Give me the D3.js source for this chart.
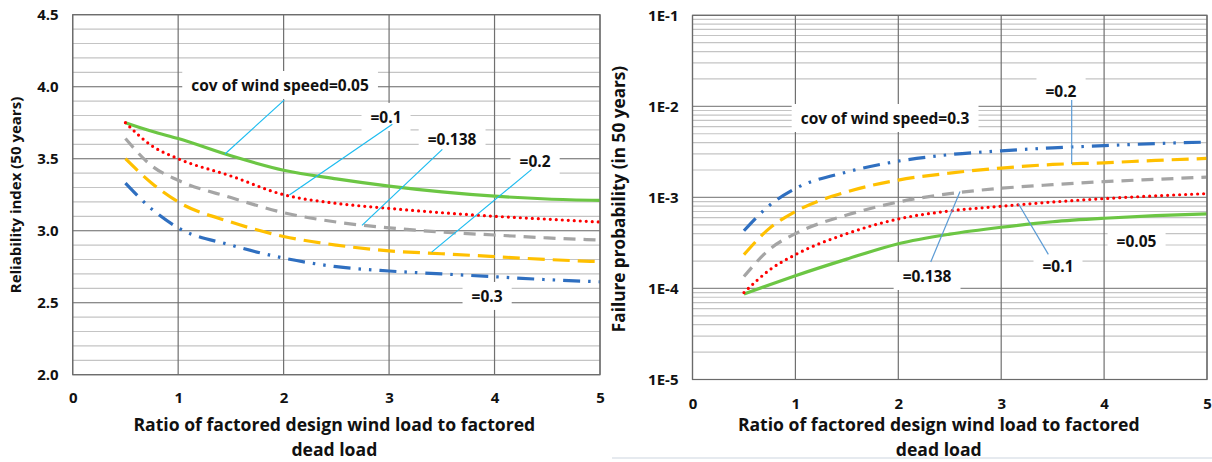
<!DOCTYPE html>
<html>
<head>
<meta charset="utf-8">
<script src="https://cdn.jsdelivr.net/npm/d3@7"></script>
<style>
body { margin: 0; background: #fff; }
svg text { font-family: "Open Sans", Lato, sans-serif; font-weight: bold; fill: #111; }
</style>
</head>
<body>
<svg id="chart" width="1212" height="462"></svg>
<script>
// ---- data ----
const ratios = [0.5, 0.75, 1, 1.5, 2, 2.5, 3, 3.5, 4, 4.5, 5];
const covs = ["0.05", "0.1", "0.138", "0.2", "0.3"];

// reliability index (left panel)
const beta005  = [3.75, 3.69, 3.64, 3.52, 3.42, 3.36, 3.31, 3.27, 3.24, 3.22, 3.21];
const beta01   = [3.75, 3.59, 3.50, 3.38, 3.25, 3.19, 3.155, 3.125, 3.10, 3.08, 3.06];
const beta0138 = [3.64, 3.45, 3.35, 3.23, 3.125, 3.06, 3.02, 2.99, 2.97, 2.95, 2.935];
const beta02   = [3.50, 3.33, 3.20, 3.06, 2.96, 2.90, 2.86, 2.84, 2.82, 2.80, 2.785];
const beta03   = [3.33, 3.15, 3.02, 2.90, 2.81, 2.75, 2.72, 2.70, 2.68, 2.66, 2.645];

// failure probability (right panel)
const pf005  = [8.7e-5, 1.1e-4, 1.38e-4, 2.1e-4, 3.1e-4, 3.95e-4, 4.7e-4, 5.4e-4, 5.9e-4, 6.3e-4, 6.6e-4];
const pf01   = [9.0e-5, 1.6e-4, 2.35e-4, 4.0e-4, 5.8e-4, 7.1e-4, 8.0e-4, 8.9e-4, 9.7e-4, 1.04e-3, 1.1e-3];
const pf0138 = [1.35e-4, 2.7e-4, 4.0e-4, 6.4e-4, 8.9e-4, 1.1e-3, 1.26e-3, 1.38e-3, 1.49e-3, 1.58e-3, 1.67e-3];
const pf02   = [2.35e-4, 4.6e-4, 7.0e-4, 1.15e-3, 1.55e-3, 1.85e-3, 2.1e-3, 2.3e-3, 2.4e-3, 2.55e-3, 2.68e-3];
const pf03   = [4.3e-4, 8.2e-4, 1.25e-3, 1.9e-3, 2.5e-3, 2.95e-3, 3.25e-3, 3.5e-3, 3.7e-3, 3.9e-3, 4.05e-3];

const xTicks = [0, 1, 2, 3, 4, 5];
const betaTicks = [2.0, 2.5, 3.0, 3.5, 4.0, 4.5];
const pfTicks = [1e-5, 1e-4, 1e-3, 1e-2, 1e-1];
const pfTickLabels = ["1E-5", "1E-4", "1E-3", "1E-2", "1E-1"];

const xTitle = ["Ratio of factored design wind load to factored", "dead load"];

// series look
const seriesStyle = {
  "0.05":  { color: "#6cc644", dash: null,               cap: "butt" },
  "0.1":   { color: "#ff0000", dash: "0,6",              cap: "round" },
  "0.138": { color: "#a5a5a5", dash: "12,8",             cap: "butt" },
  "0.2":   { color: "#ffc000", dash: "17,8",             cap: "butt" },
  "0.3":   { color: "#2f6fc0", dash: "17,8,2.5,8,2.5,8", cap: "butt" }
};

const svg = d3.select("#chart");

function drawPanel(opt) {
  const g = svg.append("g");
  const x = d3.scaleLinear().domain([0, 5]).range(opt.xRange);
  const y = opt.y;

  // minor horizontal grid
  g.selectAll(".minor").data(opt.minor).join("line")
    .attr("x1", x(0)).attr("x2", x(5))
    .attr("y1", d => y(d)).attr("y2", d => y(d))
    .attr("stroke", "#c4c4c4").attr("stroke-width", 1.2);

  // major horizontal grid
  g.selectAll(".major").data(opt.yTicks).join("line")
    .attr("x1", x(0)).attr("x2", x(5))
    .attr("y1", d => y(d)).attr("y2", d => y(d))
    .attr("stroke", "#8c8c8c").attr("stroke-width", 1.2);

  // vertical grid
  g.selectAll(".vgrid").data(xTicks).join("line")
    .attr("x1", d => x(d)).attr("x2", d => x(d))
    .attr("y1", y.range()[0]).attr("y2", y.range()[1])
    .attr("stroke", "#707070").attr("stroke-width", 1.2);

  // label boxes (white, over grid)
  const boxes = g.append("g");

  // curves
  const line = d3.line().x((d, i) => x(ratios[i])).y(d => y(d)).curve(d3.curveMonotoneX);
  opt.series.forEach((vals, k) => {
    const s = seriesStyle[covs[k]];
    g.append("path").datum(vals)
      .attr("d", line)
      .attr("fill", "none")
      .attr("stroke", s.color)
      .attr("stroke-width", 3.2)
      .attr("stroke-linecap", s.cap)
      .attr("stroke-dasharray", s.dash);
  });

  // leader lines
  g.selectAll(".leader").data(opt.leaders).join("line")
    .attr("x1", d => x(d[0])).attr("y1", d => y(d[1]))
    .attr("x2", d => x(d[2])).attr("y2", d => y(d[3]))
    .attr("stroke", opt.leaderColor).attr("stroke-width", 1.2);

  // annotations
  opt.notes.forEach(n => {
    const t = g.append("text")
      .attr("x", x(n.x)).attr("y", y(n.y))
      .attr("text-anchor", "middle").attr("dominant-baseline", "central")
      .attr("font-size", 15.5).text(n.text);
    const bb = t.node().getBBox();
    boxes.append("rect")
      .attr("x", bb.x - 9).attr("y", bb.y - 3)
      .attr("width", bb.width + 18).attr("height", bb.height + 6)
      .attr("fill", "#fff");
  });

  // y tick labels
  const yAxis = g.append("g")
    .attr("transform", `translate(${x(0) - 14},0)`)
    .call(opt.yAxis);
  yAxis.select(".domain").remove();
  yAxis.selectAll("line").remove();
  yAxis.selectAll("text").attr("font-size", 15).attr("font-family", null).attr("fill", null);

  // x tick labels
  const xAxis = g.append("g")
    .attr("transform", `translate(0,${y.range()[0] + opt.xLabelGap})`)
    .call(d3.axisBottom(x).tickValues(xTicks).tickFormat(d3.format("d")).tickSize(0));
  xAxis.select(".domain").remove();
  xAxis.selectAll("text").attr("font-size", 15).attr("font-family", null).attr("fill", null);

  // x title
  const mid = (opt.xRange[0] + opt.xRange[1]) / 2 + opt.titleShift;
  xTitle.forEach((s, i) => {
    g.append("text").attr("x", mid).attr("y", 431 + i * 25)
      .attr("text-anchor", "middle").attr("font-size", 17.6).text(s);
  });

  // y title
  g.append("text")
    .attr("transform", `translate(${opt.yTitleX},${opt.yTitleY}) rotate(-90)`)
    .attr("text-anchor", "middle").attr("font-size", opt.yTitleSize).text(opt.yTitle);

  // frame
  g.append("rect")
    .attr("x", x(0)).attr("y", y.range()[1])
    .attr("width", x(5) - x(0)).attr("height", y.range()[0] - y.range()[1])
    .attr("fill", "none").attr("stroke", "#6a6a6a").attr("stroke-width", 1.2);
}

// ---- left panel: reliability index ----
const yBeta = d3.scaleLinear().domain([2, 4.5]).range([374.7, 14.7]);
drawPanel({
  xRange: [72.7, 600],
  y: yBeta,
  yTicks: betaTicks,
  minor: d3.range(2.1, 4.5, 0.1),
  yAxis: d3.axisLeft(yBeta).tickValues(betaTicks).tickFormat(d3.format(".1f")).tickSize(0).tickPadding(0),
  series: [beta005, beta01, beta0138, beta02, beta03],
  leaderColor: "#1cbcf0",
  leaders: [
    [2.005, 3.907, 1.444, 3.533],
    [3.031, 3.739, 2.054, 3.248],
    [3.505, 3.565, 2.743, 3.037],
    [4.352, 3.426, 3.404, 2.851]
  ],
  notes: [
    { text: "cov of wind speed=0.05", x: 1.966, y: 4.012 },
    { text: "=0.1", x: 2.971, y: 3.79 },
    { text: "=0.138", x: 3.597, y: 3.637 },
    { text: "=0.2", x: 4.384, y: 3.484 },
    { text: "=0.3", x: 3.929, y: 2.547 }
  ],
  xLabelGap: 15,
  titleShift: -2,
  yTitle: "Reliability index (50 years)",
  yTitleSize: 15,
  yTitleX: 21,
  yTitleY: 195
});

// ---- right panel: failure probability ----
const yPf = d3.scaleLog().domain([1e-5, 1e-1]).range([379.5, 15.3]);
const pfMinor = [];
[1e-5, 1e-4, 1e-3, 1e-2].forEach(dec => d3.range(2, 10).forEach(m => pfMinor.push(dec * m)));
drawPanel({
  xRange: [692.5, 1207],
  y: yPf,
  yTicks: pfTicks,
  minor: pfMinor,
  yAxis: d3.axisLeft(yPf).tickValues(pfTicks).tickFormat((d, i) => pfTickLabels[i]).tickSize(0).tickPadding(0),
  series: [pf005, pf01, pf0138, pf02, pf03],
  leaderColor: "#5b9bd5",
  leaders: [
    [3.685, 1.175e-2, 3.685, 2.33e-3],
    [2.315, 1.95e-4, 2.600, 1.16e-3],
    [3.458, 2.37e-4, 3.166, 8.57e-4]
  ],
  notes: [
    { text: "cov of wind speed=0.3", x: 1.871, y: 7.45e-3 },
    { text: "=0.2", x: 3.581, y: 1.475e-2 },
    { text: "=0.138", x: 2.279, y: 1.37e-4 },
    { text: "=0.1", x: 3.552, y: 1.77e-4 },
    { text: "=0.05", x: 4.315, y: 3.32e-4 }
  ],
  xLabelGap: 16,
  titleShift: -11,
  yTitle: "Failure probability (in 50 years)",
  yTitleSize: 17.2,
  yTitleX: 625,
  yTitleY: 199
});

// faint frame line under the right picture
svg.append("line").attr("x1", 612).attr("x2", 1212).attr("y1", 458).attr("y2", 458)
  .attr("stroke", "#e6eaef").attr("stroke-width", 2);
</script>
</body>
</html>
